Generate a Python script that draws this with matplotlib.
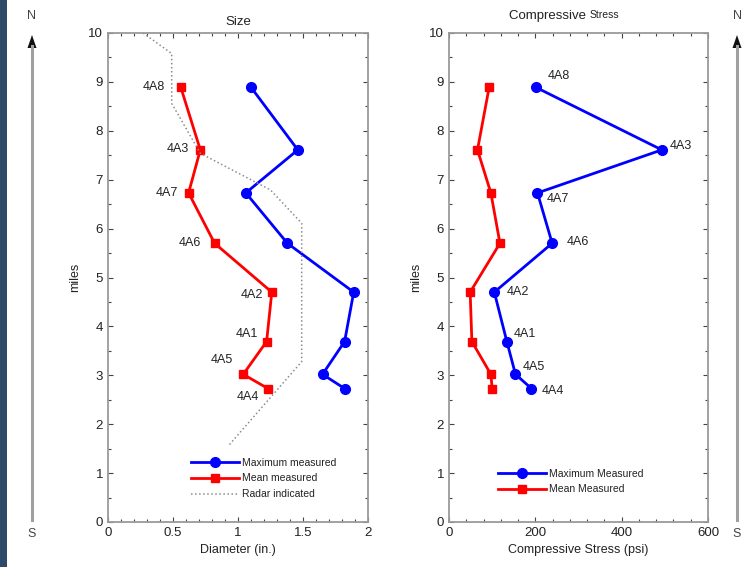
import matplotlib
matplotlib.use("Agg")
import matplotlib.pyplot as plt
from matplotlib.lines import Line2D
from matplotlib.patches import Polygon, Rectangle
from matplotlib.ticker import MultipleLocator

plt.rcParams['font.family'] = ['Liberation Sans', 'DejaVu Sans']

# Sample sites, ordered north to south
sites = ["4A8", "4A3", "4A7", "4A6", "4A2", "4A1", "4A5", "4A4"]
miles = [8.89, 7.61, 6.73, 5.70, 4.70, 3.69, 3.02, 2.73]

# Hail diameter (in.)
diam_max = [1.10, 1.46, 1.06, 1.38, 1.89, 1.82, 1.65, 1.82]
diam_mean = [0.56, 0.71, 0.62, 0.82, 1.26, 1.22, 1.04, 1.23]

# Radar-indicated size along the track
radar_diam = [0.27, 0.49, 0.49, 0.71, 1.25, 1.49, 1.49, 0.93]
radar_miles = [10.0, 9.58, 8.56, 7.54, 6.79, 6.11, 3.28, 1.57]

# Compressive stress (psi)
stress_max = [201, 493, 205, 239, 105, 134, 154, 191]
stress_mean = [93, 66, 97, 118, 49, 53, 97, 100]

# Label offsets in pixels (dx, dy) relative to the labelled point
size_label_off = [(-16, 0), (-11, 1), (-11, 0), (-14, 0), (-9, -3), (-9, 8), (-10, 14), (-9, -8)]
stress_label_off = [(12, 11), (8, 4), (9, -6), (15, 1), (12, 0), (7, 8), (7, 7), (10, -2)]

W, H = 756, 567
fig = plt.figure(figsize=(W / 100, H / 100), dpi=100)

BLUE = "#0000ff"
RED = "#ff0000"
TXT = "#222222"
SPINE = "#9a9a9a"


def px_axes(x0, x1, y_top, y_bot):
    return fig.add_axes([x0 / W, 1 - y_bot / H, (x1 - x0) / W, (y_bot - y_top) / H])


def style_axes(ax):
    for s in ax.spines.values():
        s.set_color(SPINE)
        s.set_linewidth(1.3)
    ax.tick_params(which="both", direction="in", top=True, right=True,
                   colors="#444444", labelcolor=TXT, labelsize=9.5)
    ax.tick_params(which="major", length=3.5, width=0.8)
    ax.tick_params(which="minor", length=2, width=0.8)
    ax.set_ylim(0, 10)
    ax.yaxis.set_major_locator(MultipleLocator(1))
    ax.yaxis.set_minor_locator(MultipleLocator(0.5))
    ax.set_ylabel("miles", fontsize=9, color=TXT, labelpad=5)


# ---- Size panel ----
ax1 = px_axes(108, 368, 33, 522)
style_axes(ax1)
ax1.set_xlim(0, 2)
ax1.xaxis.set_major_locator(MultipleLocator(0.5))
ax1.xaxis.set_minor_locator(MultipleLocator(0.1))
ax1.xaxis.set_major_formatter(plt.FuncFormatter(lambda v, p: f"{v:g}"))
ax1.plot(diam_max, miles, "-o", color=BLUE, lw=2, ms=7, label="Maximum measured")
ax1.plot(diam_mean, miles, "-s", color=RED, lw=2, ms=6, label="Mean measured")
ax1.plot(radar_diam, radar_miles, ":", color="#8c8c8c", lw=1.1, label="Radar indicated")
for name, x, y, (dx, dy) in zip(sites, diam_mean, miles, size_label_off):
    ax1.annotate(name, (x, y), xytext=(dx, dy), textcoords="offset pixels",
                 ha="right", va="center", fontsize=9, color=TXT)
ax1.set_xlabel("Diameter (in.)", fontsize=9, color=TXT, labelpad=4)
ax1.set_title("Size", fontsize=9.5, color=TXT, pad=6)
ax1.legend(loc="center left", bbox_to_anchor=(0.32, 0.089), frameon=False,
           fontsize=7.5, handlelength=4.6, handletextpad=0.3, labelspacing=0.55,
           borderaxespad=0, borderpad=0, labelcolor=TXT)

# ---- Compressive stress panel ----
ax2 = px_axes(449, 708, 33, 522)
style_axes(ax2)
ax2.set_xlim(0, 600)
ax2.xaxis.set_major_locator(MultipleLocator(200))
ax2.xaxis.set_minor_locator(MultipleLocator(40))
ax2.plot(stress_max, miles, "-o", color=BLUE, lw=2, ms=7, label="Maximum Measured")
ax2.plot(stress_mean, miles, "-s", color=RED, lw=2, ms=6, label="Mean Measured")
for name, x, y, (dx, dy) in zip(sites, stress_max, miles, stress_label_off):
    ax2.annotate(name, (x, y), xytext=(dx, dy), textcoords="offset pixels",
                 ha="left", va="center", fontsize=9, color=TXT)
ax2.set_xlabel("Compressive Stress (psi)", fontsize=9, color=TXT, labelpad=4)
ax2.legend(loc="center left", bbox_to_anchor=(0.19, 0.083), frameon=False,
           fontsize=7.5, handlelength=4.6, handletextpad=0.3, labelspacing=0.55,
           borderaxespad=0, borderpad=0, labelcolor=TXT)
# Title with a smaller second word
fig.text(590 / W, 1 - 16 / H, "Compressive ", ha="right", va="center", fontsize=9.5, color=TXT)
fig.text(590 / W, 1 - 15 / H, "Stress", ha="left", va="center", fontsize=7.5, color=TXT)

# ---- Page decorations: side strip and north/south arrows ----
fig.add_artist(Rectangle((0, 0), 7 / W, 1, transform=fig.transFigure,
                         facecolor="#2d4a6a", edgecolor="none"))


def compass(xp):
    x = xp / W
    fig.add_artist(Line2D([x, x], [1 - 520 / H, 1 - 46 / H], transform=fig.transFigure,
                          color="#a0a0a0", lw=2.2))
    fig.add_artist(Polygon([(x - 4.5 / W, 1 - 48 / H), (x + 4.5 / W, 1 - 48 / H), (x, 1 - 35 / H)],
                           closed=True, transform=fig.transFigure, facecolor="#111111",
                           edgecolor="none"))
    fig.text(x, 1 - 16 / H, "N", ha="center", va="center", fontsize=9, color="#444444")
    fig.text(x, 1 - 534 / H, "S", ha="center", va="center", fontsize=9, color="#444444")


compass(32)
compass(737)

fig.savefig("out.png", dpi=100)
